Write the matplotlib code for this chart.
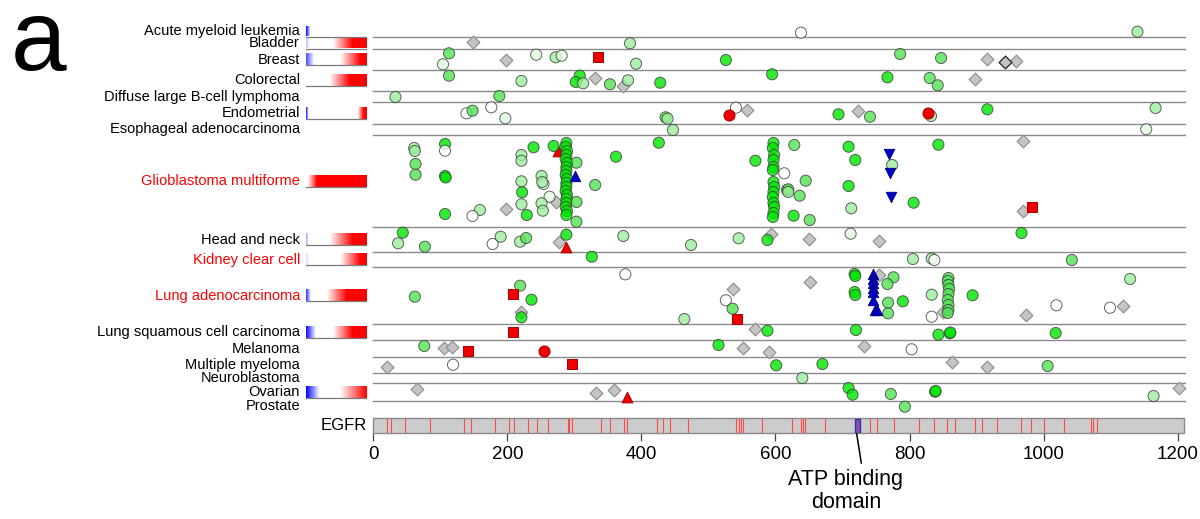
import numpy as np
import matplotlib
matplotlib.use('Agg')
from matplotlib import pyplot as plt
from matplotlib.patches import Rectangle

plt.rcParams['font.family'] = ['Liberation Sans', 'DejaVu Sans']

cancers = ['Acute myeloid leukemia', 'Bladder', 'Breast', 'Colorectal',
           'Diffuse large B-cell lymphoma', 'Endometrial', 'Esophageal adenocarcinoma',
           'Glioblastoma multiforme', 'Head and neck', 'Kidney clear cell',
           'Lung adenocarcinoma', 'Lung squamous cell carcinoma', 'Melanoma',
           'Multiple myeloma', 'Neuroblastoma', 'Ovarian', 'Prostate']
highlight = ['Glioblastoma multiforme', 'Kidney clear cell', 'Lung adenocarcinoma']
# row height ~ number of samples
row_heights = [11, 12, 21, 21, 11, 22, 11, 92, 25, 15, 57, 16, 17, 16, 10, 18, 10]

# heat bars next to the names: blue level, blue fade width, red start, red full
heat_rows = [0, 1, 2, 3, 5, 7, 8, 9, 10, 11, 15]
heat_blue = [1.0, 0.25, 0.7, 0.0, 0.9, 0.0, 0.35, 0.12, 0.8, 0.95, 1.0]
heat_blue_w = [0.07, 0.06, 0.13, 0.01, 0.04, 0.01, 0.04, 0.05, 0.08, 0.16, 0.22]
heat_red0 = [2.0, 0.44, 0.56, 0.39, 0.85, 0.03, 0.39, 0.56, 0.34, 0.44, 0.56]
heat_red1 = [2.1, 0.77, 0.90, 0.72, 0.95, 0.18, 0.77, 0.90, 0.67, 0.77, 1.00]

# mutations: (row, residue, offset inside row, shade 0=white .. 4=bright green)
circles = [
    (0, 638, 6.7, 0), (0, 1140, 5.7, 2),
    (1, 383, 6.3, 2),
    (2, 113, 4.3, 3), (2, 104, 15.3, 1), (2, 243, 5.7, 1), (2, 272, 8.3, 2), (2, 281, 6.7, 1),
    (2, 392, 14.7, 2), (2, 526, 11, 4), (2, 786, 5, 3), (2, 847, 9, 3),
    (3, 113, 5.7, 3), (3, 221, 11, 2), (3, 308, 5.7, 4), (3, 302, 12, 4), (3, 313, 13.3, 2),
    (3, 353, 14.3, 3), (3, 380, 10.3, 2), (3, 428, 12.7, 4), (3, 595, 4.3, 4), (3, 767, 7.3, 4),
    (3, 830, 8, 3), (3, 842, 15.3, 3),
    (4, 33, 6, 2), (4, 188, 5, 3),
    (5, 139, 11.3, 0), (5, 148, 8.7, 3), (5, 176, 5.3, 0), (5, 197, 16.3, 1), (5, 436, 15.3, 3),
    (5, 439, 16.7, 2), (5, 541, 5.7, 0), (5, 694, 12.3, 4), (5, 741, 14.7, 3), (5, 832, 14, 2),
    (5, 916, 7.3, 4), (5, 1167, 6, 2),
    (6, 447, 6, 2), (6, 1153, 5.3, 1),
    (7, 61, 13, 2), (7, 62, 16, 2), (7, 63, 29, 3), (7, 63, 39.7, 3),
    (7, 107, 9, 4), (7, 107, 15.7, 0), (7, 107, 41, 4), (7, 108, 42.5, 4), (7, 107, 79, 4),
    (7, 221, 20, 2), (7, 221, 25.7, 2), (7, 221, 46.3, 2), (7, 222, 57.3, 4), (7, 221, 69.3, 2),
    (7, 229, 80, 4), (7, 239, 12.3, 4), (7, 269, 11, 4),
    (7, 251, 41, 2), (7, 254, 49, 1), (7, 252, 47, 2), (7, 263, 61.7, 1), (7, 251, 68.3, 2),
    (7, 253, 75.7, 2), (7, 159, 75, 2), (7, 148, 81, 0),
    (7, 303, 27.7, 3), (7, 303, 67, 3), (7, 303, 86.7, 3),
    (7, 362, 21.7, 4), (7, 331, 50, 3), (7, 426, 7.7, 4), (7, 570, 25.7, 4),
    (7, 613, 38.3, 0), (7, 617, 55, 2), (7, 628, 10, 3), (7, 709, 11.7, 4), (7, 843, 9.7, 4),
    (7, 719, 25, 4), (7, 774, 30, 2), (7, 645, 45.7, 3), (7, 619, 54.3, 3), (7, 619, 57, 2),
    (7, 636, 60.7, 3), (7, 709, 51, 4), (7, 806, 67.7, 4), (7, 713, 73.3, 2), (7, 627, 80.7, 4),
    (7, 651, 85, 3),
    (7, 288, 8, 4), (7, 287, 12, 4), (7, 289, 16, 4), (7, 288, 20, 4), (7, 287, 24, 4),
    (7, 289, 28, 4), (7, 288, 32, 4), (7, 288, 36, 4), (7, 287, 40, 4), (7, 289, 44, 4),
    (7, 288, 48, 4), (7, 288, 52, 4), (7, 287, 56, 4), (7, 289, 60, 4), (7, 288, 64, 4),
    (7, 288, 68, 4), (7, 287, 72, 4), (7, 289, 76, 4), (7, 288, 80, 4),
    (7, 597, 8, 4), (7, 596, 13, 4), (7, 598, 20, 4), (7, 597, 25, 4), (7, 597, 32, 4),
    (7, 596, 35, 4), (7, 597, 47, 4), (7, 598, 52, 4), (7, 597, 57, 4), (7, 596, 62, 4),
    (7, 597, 68, 4), (7, 598, 72, 4), (7, 597, 78, 4), (7, 596, 82, 4),
    (8, 44, 5.7, 4), (8, 37, 16.3, 2), (8, 77, 19.7, 3), (8, 178, 17, 0), (8, 190, 9.7, 2),
    (8, 219, 14.7, 2), (8, 228, 11, 3), (8, 288, 7.7, 4), (8, 373, 9, 2), (8, 474, 18, 2),
    (8, 545, 11.3, 2), (8, 588, 13, 4), (8, 712, 6.7, 1), (8, 967, 6, 4),
    (9, 326, 4.7, 4), (9, 805, 7, 2), (9, 833, 6.5, 2), (9, 837, 8, 0), (9, 1042, 8, 3),
    (10, 376, 7.3, 0), (10, 62, 29.7, 3), (10, 219, 18.7, 3), (10, 236, 32.7, 4), (10, 221, 50.3, 4),
    (10, 464, 52, 2), (10, 526, 33.3, 0), (10, 536, 41.7, 3), (10, 718, 7, 4), (10, 719, 9, 4),
    (10, 718, 25, 4), (10, 719, 28, 4), (10, 776, 10.3, 3), (10, 767, 17, 3), (10, 790, 34.3, 4),
    (10, 768, 35.7, 3), (10, 768, 46.3, 3), (10, 833, 27.7, 2), (10, 833, 49.7, 0),
    (10, 858, 11, 3), (10, 857, 14, 3), (10, 858, 18, 3), (10, 859, 22, 3), (10, 858, 27, 3),
    (10, 857, 33, 3), (10, 858, 38, 3), (10, 858, 43, 3), (10, 857, 46, 3),
    (10, 894, 28.3, 4), (10, 1019, 38.3, 0), (10, 1129, 12, 2), (10, 1099, 40.7, 0),
    (11, 588, 6.7, 4), (11, 720, 6, 4), (11, 843, 10.7, 4), (11, 860, 9.3, 4), (11, 861, 8.5, 4),
    (11, 1018, 9, 4),
    (12, 76, 6, 3), (12, 515, 5, 4), (12, 803, 9.3, 0),
    (13, 119, 7.7, 0), (13, 601, 8.3, 4), (13, 670, 7, 4), (13, 1006, 9, 3),
    (14, 640, 5, 2),
    (15, 709, 5, 4), (15, 715, 11.7, 4), (15, 772, 11, 3), (15, 838, 8.7, 4), (15, 839, 8, 4),
    (15, 1164, 13, 2),
    (16, 793, 5.7, 3),
]
diamonds = [
    (1, 148, 5), (2, 198, 11.3), (2, 916, 9.7), (2, 959, 11.7), (3, 330, 8.3), (3, 372, 16),
    (3, 898, 9), (5, 557, 7.7), (5, 723, 9.3), (7, 969, 6), (7, 198, 74), (7, 272, 66.7),
    (7, 969, 76), (8, 277, 14.7), (8, 594, 7), (8, 650, 12), (8, 754, 13.7), (10, 220, 44.7),
    (10, 536, 21.7), (10, 652, 14.7), (10, 755, 7.7), (10, 850, 44.7), (10, 973, 48),
    (10, 1118, 39.3), (11, 569, 4.7), (12, 105, 8.3), (12, 117, 7), (12, 551, 7.7),
    (12, 590, 11.7), (12, 732, 6), (13, 20, 9.7), (13, 864, 4.7), (13, 916, 10.3),
    (15, 65, 6.3), (15, 332, 9.7), (15, 359, 7), (15, 1202, 5.3),
]
dark_diamonds = [(2, 942, 13.3)]
red_squares = [(2, 335, 8.3), (7, 982, 71.7), (10, 209, 27), (10, 543, 52), (11, 209, 8),
               (12, 141, 10.7), (13, 296, 7)]
red_circles = [(5, 530, 13), (5, 827, 10.7), (12, 254, 11)]
red_triangles = [(7, 276, 16), (8, 287, 20.3), (15, 378, 13.7)]
blue_up = [(7, 301, 41), (10, 745, 7), (10, 745, 12), (10, 745, 16), (10, 745, 21),
           (10, 745, 25), (10, 746, 33), (10, 748, 43), (10, 751, 43)]
blue_down = [(7, 769, 19), (7, 771, 37.7), (7, 773, 61.7)]

# EGFR protein
protein_len = 1210
hotspots = [20, 27, 47, 84, 135, 146, 181, 203, 210, 231, 244, 260, 290, 292, 297, 340, 353,
            374, 378, 423, 432, 443, 469, 541, 546, 548, 551, 580, 624, 638, 641, 644, 674,
            741, 752, 777, 814, 837, 856, 868, 897, 908, 931, 966, 981, 1001, 1030, 1071,
            1074, 1079]
atp_domain = (718, 726)

shade_colors = ['#ffffff', '#e2fae2', '#9cee9c', '#52e252', '#00e600']

tops = np.concatenate([[0], np.cumsum(row_heights)])
H = 407.3

fig = plt.figure(figsize=(12, 5.19), dpi=100)
ax = fig.add_axes([373.3 / 1200, 1 - 433.3 / 519, 811.1 / 1200, H / 519])
ax.set_xlim(0, protein_len)
ax.set_ylim(H, 0)

# row separators
for t in tops[1:-1]:
    ax.plot([0, 1211], [t, t], color='#8a8a8a', lw=1.0, zorder=1, clip_on=False)


def ys(pts):
    return [tops[p[0]] + p[2] for p in pts]


def xs(pts):
    return [p[1] for p in pts]


kw = dict(clip_on=False, zorder=3)
ax.scatter(xs(diamonds), ys(diamonds), marker='D', s=42, c='#c4c4c4',
           edgecolors='#8c8c8c', linewidths=0.8, **kw)
ax.scatter(xs(dark_diamonds), ys(dark_diamonds), marker='D', s=42, c='#c4c4c4',
           edgecolors='#303030', linewidths=1.0, **kw)
ax.scatter(xs(red_triangles), ys(red_triangles), marker='^', s=60, c='#ee0000',
           edgecolors='#aa0000', linewidths=0.7, clip_on=False, zorder=3.5)
ax.scatter(xs(circles), ys(circles), marker='o', s=64,
           c=[shade_colors[p[3]] for p in circles], edgecolors='#3c3c3c',
           linewidths=0.7, alpha=0.8, clip_on=False, zorder=4)
ax.scatter(xs(red_circles), ys(red_circles), marker='o', s=64, c='#ee0000',
           edgecolors='#aa0000', linewidths=0.7, clip_on=False, zorder=5)
ax.scatter(xs(red_squares), ys(red_squares), marker='s', s=58, c='#ee0000',
           edgecolors='#aa0000', linewidths=0.7, clip_on=False, zorder=5)
ax.scatter(xs(blue_up), ys(blue_up), marker='^', s=55, c='#0000cc',
           edgecolors='#000080', linewidths=0.7, clip_on=False, zorder=5)
ax.scatter(xs(blue_down), ys(blue_down), marker='v', s=55, c='#0000cc',
           edgecolors='#000080', linewidths=0.7, clip_on=False, zorder=5)

# protein bar
bar_top, bar_bot = 392, H
ax.add_patch(Rectangle((0, bar_top), protein_len, bar_bot - bar_top, facecolor='#cccccc',
                       edgecolor='#8a8a8a', lw=1.0, clip_on=False, zorder=2))
for h in hotspots:
    ax.plot([h, h], [bar_top + 0.8, bar_bot - 0.8], color='#ff4a4a', lw=0.8, zorder=2.5)
ax.add_patch(Rectangle((atp_domain[0], bar_top + 0.5), atp_domain[1] - atp_domain[0],
                       bar_bot - bar_top - 1, facecolor='#8a4faa', edgecolor='#3030a8',
                       lw=1.0, zorder=2.6))
ax.text(-10, (bar_top + bar_bot) / 2, 'EGFR', ha='right', va='center', fontsize=12)
ax.plot([721, 728], [bar_bot, 437], color='black', lw=1.1, clip_on=False)
ax.text(705, 443, 'ATP binding\ndomain', ha='center', va='top', fontsize=15.5,
        linespacing=1.1)

ax.set_xticks([0, 200, 400, 600, 800, 1000, 1200])
ax.set_yticks([])
ax.tick_params(axis='x', length=6, width=0.9, color='#444444', labelsize=13.5, pad=3)
for s in ax.spines.values():
    s.set_visible(False)

# names and heat bars
axl = fig.add_axes([306 / 1200, 1 - 433.3 / 519, 61 / 1200, H / 519])
xg = np.linspace(0, 1, 150)
for i, r in enumerate(heat_rows):
    tb = heat_blue[i] * np.clip(1 - xg / heat_blue_w[i], 0, 1)
    tr = np.clip((xg - heat_red0[i]) / (heat_red1[i] - heat_red0[i]), 0, 1)
    rgb = np.ones((1, len(xg), 3))
    rgb[0, :, 0] -= tb
    rgb[0, :, 1] -= tb + tr
    rgb[0, :, 2] -= tr
    rgb = np.clip(rgb, 0, 1)
    yc = tops[r] + row_heights[r] / 2
    hh = min(11.5, row_heights[r] - 1)
    axl.imshow(rgb, extent=(0, 1, yc + hh / 2, yc - hh / 2), aspect='auto',
               interpolation='bilinear')
    axl.plot([0, 1], [yc + hh / 2, yc + hh / 2], color='#7a7a7a', lw=0.9)
for r, name in enumerate(cancers):
    yc = tops[r] + row_heights[r] / 2
    axl.text(-0.1, yc, name, ha='right', va='center', fontsize=10.5,
             color='red' if name in highlight else 'black')
axl.set_xlim(0, 1)
axl.set_ylim(H, 0)
axl.axis('off')

fig.text(0.009, 1 - 70 / 519, 'a', fontsize=72, va='baseline', ha='left')

fig.savefig('out.png', dpi=100)
